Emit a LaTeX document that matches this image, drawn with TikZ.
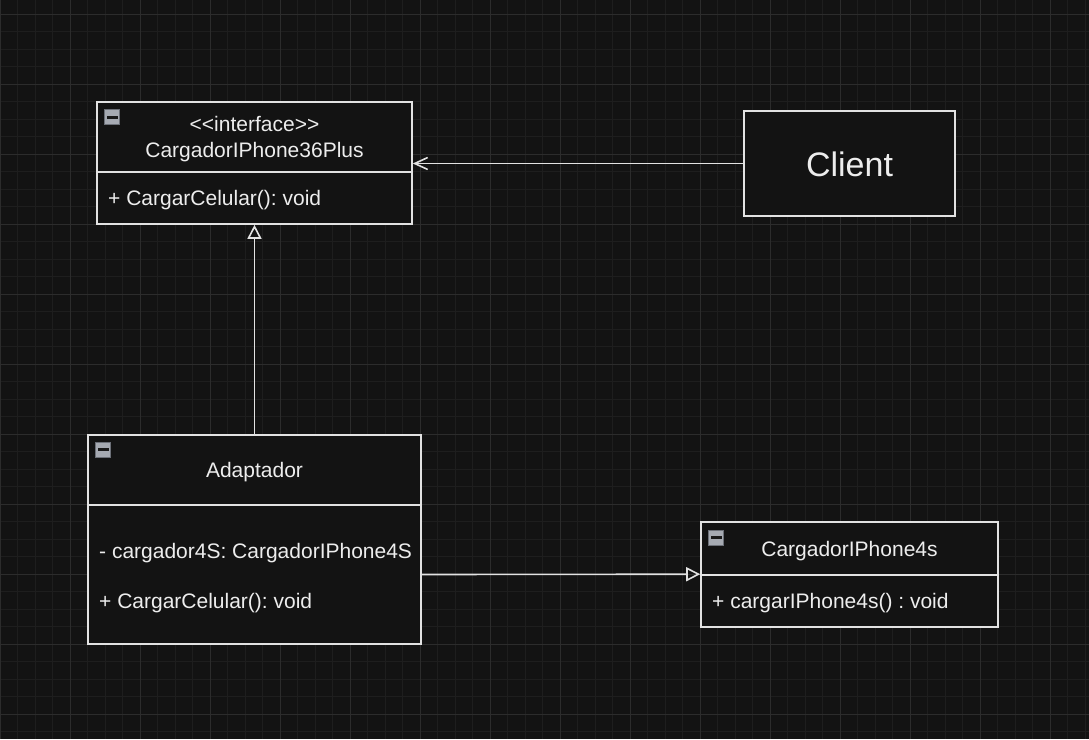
\documentclass[tikz,border=0pt]{standalone}
\usepackage{fontspec}
\setmainfont{Liberation Sans}
\usetikzlibrary{arrows.meta,calc}
\definecolor{canvas}{HTML}{131313}
\definecolor{gridminor}{HTML}{1E1E1E}
\definecolor{gridmajor}{HTML}{2C2C2C}
\definecolor{linecol}{HTML}{E2E2E2}
\definecolor{textcol}{HTML}{EDEDED}
\definecolor{iconfill}{HTML}{A6AAB2}
\definecolor{iconedge}{HTML}{6C7078}
\definecolor{iconbar}{HTML}{1A1A1A}
\tikzset{
	classbox/.style={draw=linecol, fill=canvas, line width=1.6pt, inner sep=0pt, text=textcol, align=center, text depth=0pt, font=\fontsize{21}{26}\selectfont\frenchspacing},
	member/.style={anchor=west, inner sep=0pt, text=textcol, text depth=0pt, font=\fontsize{21}{26}\selectfont\frenchspacing},
	minusbox/.style={draw=iconedge, fill=iconfill, line width=1pt, minimum size=15pt, inner sep=0pt,
		path picture={\fill[iconbar] ($(path picture bounding box.center)+(-5.5,-1.3)$) rectangle ($(path picture bounding box.center)+(5.5,1.3)$);}},
	assoc/.style={draw=linecol, line width=1.6pt, -{Straight Barb[length=13pt,width=12pt]}},
	realize/.style={draw=linecol, line width=1.6pt, -{Triangle[open,length=14pt,width=14pt]}}
}

\begin{document}
\begin{tikzpicture}[x=1pt,y=-1pt]
		%%%%% START %%%%%
		\fill[canvas] (0,0) rectangle (1089,739);
		\useasboundingbox (0,0) rectangle (1089,739);
		
		% grid
		\foreach \gx in {0,17.5,...,1089} \draw[gridminor, line width=0.8pt] (\gx,0) -- (\gx,739);
		\foreach \gy in {-3.5,14,...,739} \draw[gridminor, line width=0.8pt] (0,\gy) -- (1089,\gy);
		\foreach \gx in {0,70,...,1089} \draw[gridmajor, line width=0.9pt] (\gx,0) -- (\gx,739);
		\foreach \gy in {14,84,...,739} \draw[gridmajor, line width=0.9pt] (0,\gy) -- (1089,\gy);
		
		% interface
		\node[classbox, minimum width=315, minimum height=70] (ifaceHead) at (254.5,137) {<\kern0pt<interface>\kern0pt>\\CargadorIPhone36Plus};
		\node[classbox, minimum width=315, minimum height=52] (ifaceBody) at (254.5,198) {};
		\node[member] (ifaceOp) at (108,198) {+ CargarCelular(): void};
		\node[minusbox] (ifaceIcon) at ($(ifaceHead.north west)+(16,16)$) {};
		
		% client
		\node[classbox, minimum width=211, minimum height=105, font=\fontsize{34}{40}\selectfont] (client) at (849.5,163.5) {\raisebox{-2pt}{Client}};
		
		% adaptador
		\node[classbox, minimum width=333, minimum height=70] (adaptHead) at (254.5,470) {Adaptador};
		\node[classbox, minimum width=333, minimum height=139] (adaptBody) at (254.5,574.5) {};
		\node[member] (adaptAttr) at (99,551) {- cargador4S: CargadorIPhone4S};
		\node[member] (adaptOp) at (99,601) {+ CargarCelular(): void};
		\node[minusbox] (adaptIcon) at ($(adaptHead.north west)+(16,15.5)$) {};
		
		% cargador 4s
		\node[classbox, minimum width=297, minimum height=53] (c4sHead) at (849.5,548.5) {CargadorIPhone4s};
		\node[classbox, minimum width=297, minimum height=52] (c4sBody) at (849.5,601) {};
		\node[member] (c4sOp) at (712,601) {+ cargarIPhone4s() : void};
		\node[minusbox] (c4sIcon) at ($(c4sHead.north west)+(16,16.5)$) {};
		
		% connectors
		\draw[assoc] (client.west) -- (ifaceHead.east |- client.west);
		\draw[realize] (adaptHead.north) -- (ifaceBody.south);
		\draw[realize] (adaptBody.east) -- (c4sBody.north west);
		%%%%% END %%%%%
\end{tikzpicture}
\end{document}
